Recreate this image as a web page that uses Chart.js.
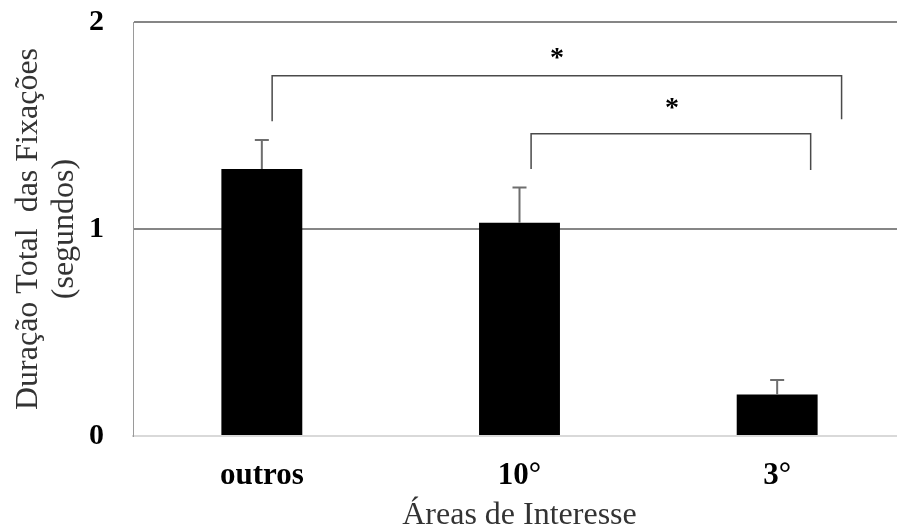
<!DOCTYPE html>
<html>
<head>
<meta charset="utf-8">
<script src="https://cdn.jsdelivr.net/npm/chart.js@4.4.1/dist/chart.umd.min.js"></script>
<style>
    html, body { margin: 0; padding: 0; background: #fff; overflow: hidden; }
    #wrap { width: 906px; height: 532px; }
</style>
</head>
<body>
<div id="wrap"><canvas id="chart" width="906" height="532"></canvas></div>
<script>
// Data
const categories = ['outros', '10°', '3°'];
const means = [1.29, 1.03, 0.20];
const errors = [0.14, 0.17, 0.07];
const yTicks = [0, 1, 2];

// Significance brackets, in axis units (category index / seconds)
const bracketFrom = [0.04, 1.045];
const bracketTo = [2.25, 2.13];
const bracketTop = [1.74, 1.46];
const bracketLeftBase = [1.52, 1.29];
const bracketRightBase = [1.53, 1.285];
const starX = [1.146, 1.592];
const starY = [1.855, 1.609];

const serif = "'Liberation Serif', 'Times New Roman', serif";

// Upward-only error bars
const errorBars = {
    id: 'errorBars',
    afterDatasetsDraw(chart) {
        const ctx = chart.ctx;
        const meta = chart.getDatasetMeta(0);
        const y = chart.scales.y;
        ctx.save();
        ctx.strokeStyle = '#6e6e6e';
        ctx.lineWidth = 2;
        meta.data.forEach((bar, i) => {
            const top = y.getPixelForValue(means[i] + errors[i]);
            ctx.beginPath();
            ctx.moveTo(bar.x, bar.y);
            ctx.lineTo(bar.x, top);
            ctx.moveTo(bar.x - 7, top);
            ctx.lineTo(bar.x + 7, top);
            ctx.stroke();
        });
        ctx.restore();
    }
};

// Brackets with asterisks
const brackets = {
    id: 'brackets',
    afterDraw(chart) {
        const ctx = chart.ctx;
        const x = chart.scales.x;
        const y = chart.scales.y;
        ctx.save();
        ctx.strokeStyle = '#4a4a4a';
        ctx.lineWidth = 1.5;
        for (let i = 0; i < bracketFrom.length; i++) {
            const x1 = x.getPixelForValue(bracketFrom[i]);
            const x2 = x.getPixelForValue(bracketTo[i]);
            const yt = y.getPixelForValue(bracketTop[i]);
            ctx.beginPath();
            ctx.moveTo(x1, y.getPixelForValue(bracketLeftBase[i]));
            ctx.lineTo(x1, yt);
            ctx.lineTo(x2, yt);
            ctx.lineTo(x2, y.getPixelForValue(bracketRightBase[i]));
            ctx.stroke();
        }
        ctx.fillStyle = '#000';
        ctx.font = 'bold 28px ' + serif;
        ctx.textAlign = 'center';
        ctx.textBaseline = 'alphabetic';
        for (let i = 0; i < starX.length; i++) {
            ctx.fillText('*', x.getPixelForValue(starX[i]), y.getPixelForValue(starY[i]) + 13.5);
        }
        ctx.restore();
    }
};

new Chart(document.getElementById('chart'), {
    type: 'bar',
    data: {
        labels: categories,
        datasets: [{
            data: means,
            backgroundColor: '#000',
            borderWidth: 0,
            categoryPercentage: 1,
            barPercentage: 0.314
        }]
    },
    options: {
        responsive: false,
        animation: false,
        layout: { padding: 0 },
        plugins: {
            legend: { display: false },
            tooltip: { enabled: false }
        },
        scales: {
            x: {
                offset: true,
                grid: { display: false, drawTicks: false },
                border: { display: true, color: '#d9d9d9', width: 2 },
                ticks: {
                    color: '#000',
                    padding: 22,
                    font: { family: serif, size: 31, weight: 'bold', lineHeight: 1.16 }
                },
                title: {
                    display: true,
                    text: 'Áreas de Interesse',
                    color: '#333',
                    padding: { top: 0, bottom: 0 },
                    font: { family: serif, size: 32, lineHeight: 1 }
                },
                afterFit(scale) { scale.height = 96; }
            },
            y: {
                min: 0,
                max: 2,
                afterBuildTicks(scale) { scale.ticks = yTicks.map(v => ({ value: v })); },
                grid: {
                    drawTicks: false,
                    lineWidth: 2,
                    color: ctx => ctx.tick && ctx.tick.value === 0 ? '#d9d9d9' : '#868686'
                },
                border: { display: true, color: '#9a9a9a', width: 1 },
                ticks: {
                    color: '#000',
                    padding: 29,
                    font: { family: serif, size: 30, weight: 'bold', lineHeight: 1.2 }
                },
                title: {
                    display: true,
                    text: ['Duração Total  das Fixações', '(segundos)'],
                    color: '#333',
                    padding: { top: 11, bottom: 0 },
                    font: { family: serif, size: 32, lineHeight: 1.125 }
                },
                afterFit(scale) {
                    scale.width = 133;
                    scale.paddingTop = 22;
                    scale.paddingBottom = 0;
                }
            }
        }
    },
    plugins: [errorBars, brackets]
});
</script>
</body>
</html>
